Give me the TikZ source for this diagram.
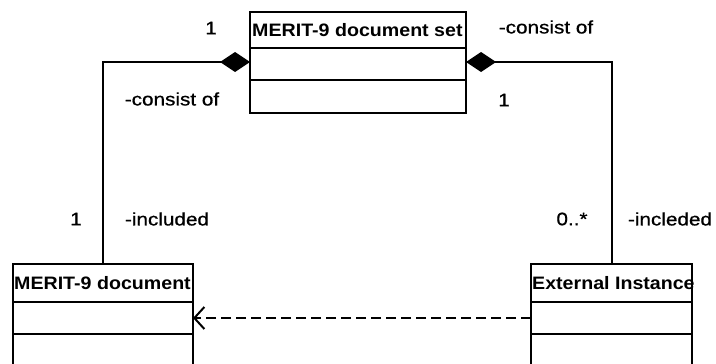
\documentclass[tikz,border=0pt]{standalone}
\usepackage{fontspec}
\setmainfont{Liberation Sans}
\newfontfamily\hdrfont[FakeStretch=1.09]{Liberation Sans}
\newfontfamily\lblfont[FakeStretch=1.15,FakeBold=0.8]{Liberation Sans}
\usetikzlibrary{arrows.meta}
\begin{document}
\begin{tikzpicture}[x=1pt,y=-1pt,
  comp/.style={draw,line width=2.4pt,anchor=north west,inner sep=0pt,outer sep=0pt},
  hdr/.style={anchor=west,inner sep=0pt,font=\hdrfont\bfseries\fontsize{18}{20}\selectfont},
  lbl/.style={inner sep=0pt,font=\lblfont\fontsize{18}{20}\selectfont},
  assoc/.style={line width=2pt},
  comptip/.style={{Diamond[length=30pt,width=20pt]}-},
  dep/.style={line width=2pt,dash pattern=on 10pt off 5pt,-{Straight Barb[length=10pt,width=22pt,line width=2pt]}}]
\useasboundingbox (0,0) rectangle (716,364);
\clip (0,0) rectangle (716,364);
\fill[white] (0,0) rectangle (716,364);
% top class
\node[comp,minimum width=216pt,minimum height=36pt] (th) at (250,12) {};
\node[comp,minimum width=216pt,minimum height=32pt] (ta) at (250,48) {};
\node[comp,minimum width=216pt,minimum height=33pt] (to) at (250,80) {};
\node[hdr] (tt) at ([xshift=2pt]th.west) {MERIT-9 document set};
% left class
\node[comp,minimum width=180pt,minimum height=38pt] (lh) at (13,264) {};
\node[comp,minimum width=180pt,minimum height=32pt] (la) at (13,302) {};
\node[comp,minimum width=180pt,minimum height=40pt] (lo) at (13,334) {};
\node[hdr] (lt) at ([xshift=1pt]lh.west) {MERIT-9 document};
% right class
\node[comp,minimum width=161pt,minimum height=38pt] (rh) at (531,264) {};
\node[comp,minimum width=161pt,minimum height=32pt] (ra) at (531,302) {};
\node[comp,minimum width=161pt,minimum height=40pt] (ro) at (531,334) {};
\node[hdr] (rt) at ([xshift=1pt]rh.west) {External Instance};
% connectors
\coordinate (tl) at (250,62);
\coordinate (tr) at (466,62);
\draw[assoc,comptip] (tl) -| (lh.north);
\draw[assoc,comptip] (tr) -| (rh.north);
\draw[dep] (ra.west) -- (la.east);
% labels
\node[lbl] (m1) at (211,28) {1};
\node[lbl] (r1) at (546,27) {-consist of};
\node[lbl] (r2) at (172,99) {-consist of};
\node[lbl] (m2) at (504,100) {1};
\node[lbl] (m3) at (76,219) {1};
\node[lbl] (r3) at (167,219) {-included};
\node[lbl] (m4) at (572,219) {0..*};
\node[lbl] (r4) at (670,219) {-incleded};
\end{tikzpicture}
\end{document}
